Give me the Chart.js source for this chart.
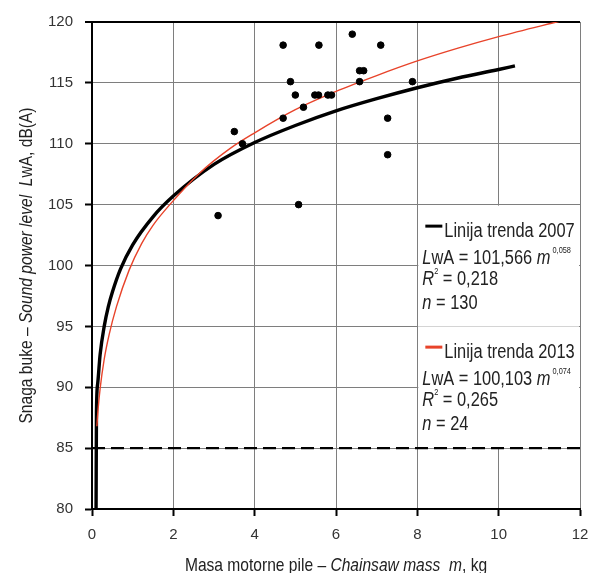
<!DOCTYPE html>
<html>
<head>
<meta charset="utf-8">
<script src="https://cdn.jsdelivr.net/npm/chart.js@4"></script>
<style>
  body { margin: 0; background: #fff; }
  #wrap { width: 591px; height: 573px; }
</style>
</head>
<body>
<div id="wrap"><canvas id="chart" width="591" height="573"></canvas></div>
<script>
// measured chainsaws (2013)
const pointMass = [3.1, 3.5, 3.7, 4.7, 4.7, 4.88, 5.0, 5.08, 5.2, 5.48, 5.57, 5.58, 5.8, 5.89, 6.4, 6.58, 6.68, 6.58, 7.1, 7.27, 7.27, 7.88];
const pointLevel = [104.1, 111, 110, 118.1, 112.1, 115.1, 114, 105, 113, 114, 114, 118.1, 114, 114, 119, 116, 116, 115.1, 118.1, 112.1, 109.1, 115.1];

// trend lines
const trend2007Mass = [0.1, 0.11, 0.14, 0.2, 0.3, 0.4, 0.5, 0.7, 1, 1.5, 2, 3, 4, 5, 6, 7, 8, 9, 10, 10.4];
const trend2007Level = [80, 88, 90.3, 92.7, 95, 96.6, 97.8, 99.7, 101.7, 104, 105.7, 108.3, 110.1, 111.5, 112.7, 113.7, 114.6, 115.4, 116.1, 116.4];
const trend2013Mass = [0.12, 0.15, 0.2, 0.3, 0.42, 0.6, 0.91, 1.22, 1.5, 1.94, 2.65, 3.39, 4, 5, 6, 7, 8, 9, 10, 11.6];
const trend2013Level = [86.8, 88.2, 89.9, 92.3, 94.3, 96.6, 99.6, 101.8, 103.3, 105.1, 107.6, 109.6, 110.9, 112.8, 114.3, 115.6, 116.8, 117.85, 118.8, 120.15];

const limitMass = [0, 12];
const limitLevel = [85, 85];

const xTicks = [0, 2, 4, 6, 8, 10, 12];
const yTicks = [80, 85, 90, 95, 100, 105, 110, 115, 120];

const trendNames = ['Linija trenda 2007', 'Linija trenda 2013'];
const trendCoef = ['101,566', '100,103'];
const trendExp = ['0,058', '0,074'];
const trendR2 = ['0,218', '0,265'];
const trendN = ['130', '24'];
const trendColors = ['#000', '#e8432a'];

// narrow font if we have it, otherwise squeeze the regular one
function hasFont(name) {
    const c = document.createElement('canvas').getContext('2d');
    c.font = '40px monospace';
    const a = c.measureText('Linija trenda 2007').width;
    c.font = `40px '${name}', monospace`;
    return c.measureText('Linija trenda 2007').width !== a;
}
const narrow = hasFont('Liberation Sans Narrow');
const family = narrow ? "'Liberation Sans Narrow'" : "'Liberation Sans'";
const squeeze = narrow ? 1 : 0.82;
const textColor = '#222';
const gridColor = '#7e7e7e';

function toPoints(xs, ys) {
    return xs.map((v, i) => ({ x: v, y: ys[i] }));
}

// draws a row of text pieces (italic / superscript) at x,y
function drawRuns(ctx, runs, x, y, size, align) {
    let w = 0;
    runs.forEach(r => {
        ctx.font = `${r.it ? 'italic ' : ''}${r.sup ? 9 : size}px ${family}`;
        r.w = ctx.measureText(r.t).width;
        w += r.w;
    });
    ctx.save();
    ctx.translate(x, y);
    ctx.scale(squeeze, 1);
    let cx = align === 'center' ? -w / 2 : 0;
    runs.forEach(r => {
        ctx.font = `${r.it ? 'italic ' : ''}${r.sup ? 9 : size}px ${family}`;
        ctx.fillText(r.t, cx, r.sup ? -11 : 0);
        cx += r.w;
    });
    ctx.restore();
}

const trendBox = {
    id: 'trendBox',
    beforeDatasetsDraw(chart) {
        const { ctx, scales: { x, y } } = chart;
        const l = x.getPixelForValue(8), r = x.getPixelForValue(12);
        const t = y.getPixelForValue(105), b = y.getPixelForValue(85);
        ctx.save();
        ctx.fillStyle = '#fff';
        ctx.fillRect(l + 1, t + 1, r - l - 2, b - t - 1);
        const p95 = Math.round(y.getPixelForValue(95)) + 0.5;
        ctx.strokeStyle = '#d4d4d4';
        ctx.lineWidth = 1;
        ctx.beginPath();
        ctx.moveTo(l + 1, p95);
        ctx.lineTo(r - 1, p95);
        ctx.stroke();
        ctx.restore();
    },
    afterDraw(chart) {
        const { ctx, scales: { x, y }, chartArea } = chart;
        const l = x.getPixelForValue(8);
        const t = y.getPixelForValue(105);
        ctx.save();
        ctx.fillStyle = textColor;
        ctx.textBaseline = 'alphabetic';

        trendNames.forEach((name, i) => {
            const top = t + i * 121;
            ctx.fillStyle = trendColors[i];
            ctx.fillRect(l + 8, top + 20, 17, 3);
            ctx.fillStyle = textColor;
            drawRuns(ctx, [{ t: name }], l + 27, top + 32, 20);
            drawRuns(ctx, [{ t: 'L', it: true }, { t: 'wA = ' + trendCoef[i] + ' ' }, { t: 'm', it: true }, { t: ' ' + trendExp[i], sup: true }], l + 5, top + 59, 20);
            drawRuns(ctx, [{ t: 'R', it: true }, { t: '2', sup: true }, { t: ' = ' + trendR2[i] }], l + 5, top + 80, 20);
            drawRuns(ctx, [{ t: 'n', it: true }, { t: ' = ' + trendN[i] }], l + 5, top + 104, 20);
        });

        // axis titles
        const midX = (chartArea.left + chartArea.right) / 2;
        drawRuns(ctx, [
            { t: 'Masa motorne pile – ' }, { t: 'Chainsaw mass', it: true }, { t: '  ' },
            { t: 'm', it: true }, { t: ', kg' }
        ], midX, 571, 19, 'center');

        const midY = (chartArea.top + chartArea.bottom) / 2;
        ctx.translate(32, midY);
        ctx.rotate(-Math.PI / 2);
        drawRuns(ctx, [
            { t: 'Snaga buke – ' }, { t: 'Sound power level', it: true }, { t: '  ' },
            { t: 'L', it: true }, { t: 'wA, dB(A)' }
        ], 0, 0, 19, 'center');
        ctx.restore();
    }
};

const tickFont = { family: narrow ? 'Liberation Sans Narrow' : 'Liberation Sans', size: narrow ? 18 : 15 };

new Chart(document.getElementById('chart'), {
    type: 'scatter',
    data: {
        datasets: [
            {
                label: 'Mjerenja',
                data: toPoints(pointMass, pointLevel),
                backgroundColor: '#000',
                borderColor: '#000',
                pointRadius: 3.3,
                pointHoverRadius: 3.3
            },
            {
                type: 'line',
                label: trendNames[1],
                data: toPoints(trend2013Mass, trend2013Level),
                borderColor: trendColors[1],
                borderWidth: 1.4,
                pointRadius: 0,
                cubicInterpolationMode: 'monotone',
                fill: false,
                clip: 0
            },
            {
                type: 'line',
                label: trendNames[0],
                data: toPoints(trend2007Mass, trend2007Level),
                borderColor: trendColors[0],
                borderWidth: 3.4,
                pointRadius: 0,
                cubicInterpolationMode: 'monotone',
                fill: false,
                clip: 0
            },
            {
                type: 'line',
                label: '85 dB(A)',
                data: toPoints(limitMass, limitLevel),
                borderColor: '#000',
                borderWidth: 2.4,
                borderDash: [13, 6],
                pointRadius: 0,
                fill: false
            }
        ]
    },
    options: {
        responsive: false,
        animation: false,
        events: [],
        layout: { padding: { left: 0, right: 11, top: 22, bottom: 0 } },
        plugins: { legend: { display: false }, tooltip: { enabled: false } },
        scales: {
            x: {
                type: 'linear',
                min: 0,
                max: 12,
                afterBuildTicks: axis => { axis.ticks = xTicks.map(v => ({ value: v })); },
                afterFit: axis => {
                    axis.height = 64;
                    axis.paddingLeft = 0;
                    axis.paddingRight = 0;
                },
                grid: { color: gridColor, lineWidth: 1, tickColor: '#000', tickLength: 7, tickWidth: 2 },
                border: { color: '#000', width: 2 },
                ticks: { font: tickFont, color: '#333', padding: 10 }
            },
            y: {
                type: 'linear',
                min: 80,
                max: 120,
                afterBuildTicks: axis => { axis.ticks = yTicks.map(v => ({ value: v })); },
                afterFit: axis => {
                    axis.width = 92;
                    axis.paddingTop = 0;
                    axis.paddingBottom = 0;
                },
                grid: {
                    color: c => (c.tick && c.tick.value === 120 ? '#000' : gridColor),
                    lineWidth: c => (c.tick && c.tick.value === 120 ? 2 : 1),
                    tickColor: '#000',
                    tickLength: 7,
                    tickWidth: 2
                },
                border: { color: '#000', width: 2 },
                ticks: { font: tickFont, color: '#333', padding: 12 }
            }
        }
    },
    plugins: [trendBox]
});
</script>
</body>
</html>
